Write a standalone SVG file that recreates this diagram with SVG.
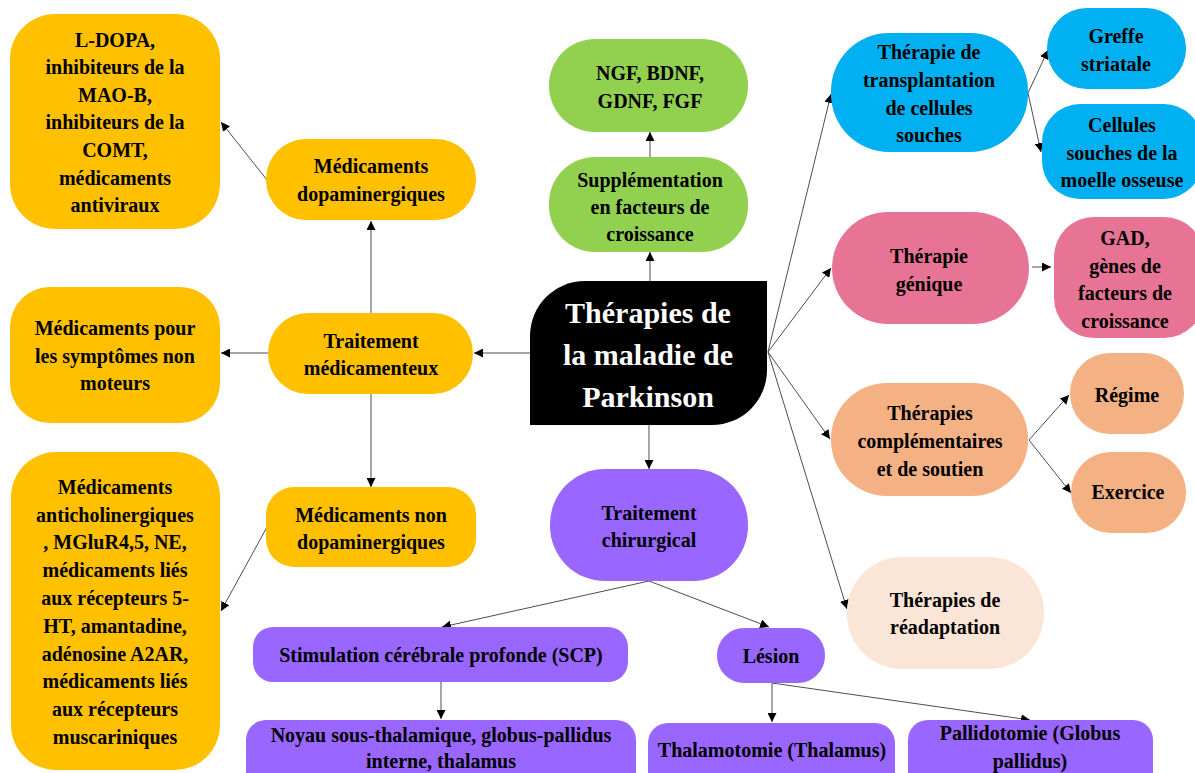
<svg xmlns="http://www.w3.org/2000/svg" width="1195" height="773" viewBox="0 0 1195 773">
<defs>
<marker id="ah" viewBox="0 0 10 10" refX="10" refY="5" markerWidth="9" markerHeight="9" markerUnits="userSpaceOnUse" orient="auto">
<path d="M0,0 L10,5 L0,10 Z" fill="#000"/>
</marker>
<style>
text{font-family:"Liberation Serif","Times New Roman",serif;font-weight:bold;font-size:20px;fill:#000;text-anchor:middle}
.c{stroke:#4d4d4d;stroke-width:1;fill:none;marker-end:url(#ah)}
.y{fill:#FFC000}
.g{fill:#92D050}
.b{fill:#00B0F0}
.p{fill:#E77494}
.o{fill:#F4B183}
.l{fill:#FBE5D6}
.v{fill:#9966FF}
</style>
</defs>
<rect width="1195" height="773" fill="#fff"/>
<g id="connectors">
<line class="c" x1="530" y1="353" x2="474" y2="353"/>
<line class="c" x1="268" y1="353" x2="221" y2="353"/>
<line class="c" x1="371" y1="313" x2="371" y2="221"/>
<line class="c" x1="371" y1="394" x2="371" y2="487"/>
<line class="c" x1="267" y1="180" x2="221" y2="122"/>
<line class="c" x1="267" y1="527" x2="221" y2="611"/>
<line class="c" x1="650" y1="281" x2="650" y2="252"/>
<line class="c" x1="650" y1="157" x2="650" y2="132"/>
<line class="c" x1="649" y1="425" x2="649" y2="469"/>
<line class="c" x1="649" y1="581" x2="442" y2="627"/>
<line class="c" x1="649" y1="581" x2="769" y2="627"/>
<line class="c" x1="441" y1="682" x2="441" y2="719"/>
<line class="c" x1="772" y1="683" x2="772" y2="722"/>
<line class="c" x1="772" y1="683" x2="1030" y2="720"/>
<line class="c" x1="768" y1="352" x2="831" y2="94"/>
<line class="c" x1="768" y1="352" x2="831" y2="268"/>
<line class="c" x1="768" y1="352" x2="830" y2="439"/>
<line class="c" x1="768" y1="352" x2="847" y2="609"/>
<line class="c" x1="1028" y1="93" x2="1048" y2="50"/>
<line class="c" x1="1028" y1="93" x2="1041" y2="152"/>
<line class="c" x1="1032" y1="267" x2="1051" y2="267"/>
<line class="c" x1="1029" y1="440" x2="1069" y2="395"/>
<line class="c" x1="1029" y1="440" x2="1071" y2="493"/>
</g>
<g id="central">
<path d="M530,425 L530,336 A55,55 0 0 1 585,281 L767,281 L767,370 A55,55 0 0 1 712,425 Z" fill="#000"/>
<text x="648" y="323" style="font-size:30px;fill:#fff">Thérapies de</text>
<text x="648" y="365" style="font-size:30px;fill:#fff">la maladie de</text>
<text x="648" y="407" style="font-size:30px;fill:#fff">Parkinson</text>
</g>
<g id="ldopa">
<rect class="y" x="10" y="14" width="210" height="215" rx="45"/>
<text x="115" y="47">L-DOPA,</text>
<text x="115" y="74">inhibiteurs de la</text>
<text x="115" y="102">MAO-B,</text>
<text x="115" y="129">inhibiteurs de la</text>
<text x="115" y="157">COMT,</text>
<text x="115" y="185">médicaments</text>
<text x="115" y="212">antiviraux</text>
</g>
<g id="dopa">
<rect class="y" x="266" y="139" width="210" height="81" rx="40"/>
<text x="371" y="173">Médicaments</text>
<text x="371" y="201">dopaminergiques</text>
</g>
<g id="traitement">
<rect class="y" x="268" y="313" width="205" height="81" rx="40"/>
<text x="371" y="348">Traitement</text>
<text x="371" y="375">médicamenteux</text>
</g>
<g id="nonmoteurs">
<rect class="y" x="10" y="287" width="210" height="136" rx="40"/>
<text x="115" y="335">Médicaments pour</text>
<text x="115" y="363">les symptômes non</text>
<text x="115" y="390">moteurs</text>
</g>
<g id="nondopa">
<rect class="y" x="266" y="487" width="210" height="80" rx="28"/>
<text x="371" y="522">Médicaments non</text>
<text x="371" y="549">dopaminergiques</text>
</g>
<g id="anticho">
<rect class="y" x="11" y="452" width="209" height="318" rx="45"/>
<text x="115" y="494">Médicaments</text>
<text x="115" y="522">anticholinergiques</text>
<text x="115" y="549">, MGluR4,5, NE,</text>
<text x="115" y="577">médicaments liés</text>
<text x="115" y="605">aux récepteurs 5-</text>
<text x="115" y="633">HT, amantadine,</text>
<text x="115" y="661">adénosine A2AR,</text>
<text x="115" y="688">médicaments liés</text>
<text x="115" y="716">aux récepteurs</text>
<text x="115" y="744">muscariniques</text>
</g>
<g id="ngf">
<rect class="g" x="549" y="39" width="199" height="93" rx="46"/>
<text x="650" y="80">NGF, BDNF,</text>
<text x="650" y="108">GDNF, FGF</text>
</g>
<g id="supp">
<rect class="g" x="549" y="157" width="199" height="95" rx="46"/>
<text x="650" y="187">Supplémentation</text>
<text x="650" y="214">en facteurs de</text>
<text x="650" y="241">croissance</text>
</g>
<g id="chir">
<rect class="v" x="550" y="469" width="198" height="112" rx="55"/>
<text x="649" y="520">Traitement</text>
<text x="649" y="547">chirurgical</text>
</g>
<g id="scp">
<rect class="v" x="253" y="627" width="375" height="55" rx="20"/>
<text x="441" y="662">Stimulation cérébrale profonde (SCP)</text>
</g>
<g id="noyau">
<rect class="v" x="246" y="720" width="390" height="75" rx="20"/>
<text x="441" y="742">Noyau sous-thalamique, globus-pallidus</text>
<text x="441" y="768">interne, thalamus</text>
</g>
<g id="lesion">
<rect class="v" x="717" y="628" width="108" height="55" rx="27"/>
<text x="771" y="663">Lésion</text>
</g>
<g id="thalamo">
<rect class="v" x="648" y="723" width="247" height="70" rx="20"/>
<text x="772" y="757">Thalamotomie (Thalamus)</text>
</g>
<g id="pallido">
<rect class="v" x="908" y="720" width="245" height="73" rx="20"/>
<text x="1030" y="740">Pallidotomie (Globus</text>
<text x="1030" y="768">pallidus)</text>
</g>
<g id="transplant">
<rect class="b" x="831" y="33" width="197" height="119" rx="58"/>
<text x="929" y="59">Thérapie de</text>
<text x="929" y="87">transplantation</text>
<text x="929" y="115">de cellules</text>
<text x="929" y="142">souches</text>
</g>
<g id="greffe">
<rect class="b" x="1047" y="8" width="139" height="81" rx="40"/>
<text x="1116" y="43">Greffe</text>
<text x="1116" y="71">striatale</text>
</g>
<g id="moelle">
<rect class="b" x="1042" y="104" width="160" height="95" rx="38"/>
<text x="1122" y="132">Cellules</text>
<text x="1122" y="160">souches de la</text>
<text x="1122" y="187">moelle osseuse</text>
</g>
<g id="genique">
<rect class="p" x="832" y="212" width="197" height="112" rx="56"/>
<text x="929" y="263">Thérapie</text>
<text x="929" y="291">génique</text>
</g>
<g id="gad">
<rect class="p" x="1054" y="217" width="150" height="121" rx="40"/>
<text x="1125" y="245">GAD,</text>
<text x="1125" y="273">gènes de</text>
<text x="1125" y="300">facteurs de</text>
<text x="1125" y="328">croissance</text>
</g>
<g id="complementaires">
<rect class="o" x="831" y="383" width="197" height="113" rx="56"/>
<text x="930" y="420">Thérapies</text>
<text x="930" y="448">complémentaires</text>
<text x="930" y="476">et de soutien</text>
</g>
<g id="regime">
<rect class="o" x="1070" y="353" width="114" height="81" rx="40"/>
<text x="1127" y="402">Régime</text>
</g>
<g id="exercice">
<rect class="o" x="1071" y="452" width="115" height="81" rx="40"/>
<text x="1128" y="499">Exercice</text>
</g>
<g id="readaptation">
<rect class="l" x="847" y="557" width="197" height="112" rx="55"/>
<text x="945" y="607">Thérapies de</text>
<text x="945" y="634">réadaptation</text>
</g>
</svg>
